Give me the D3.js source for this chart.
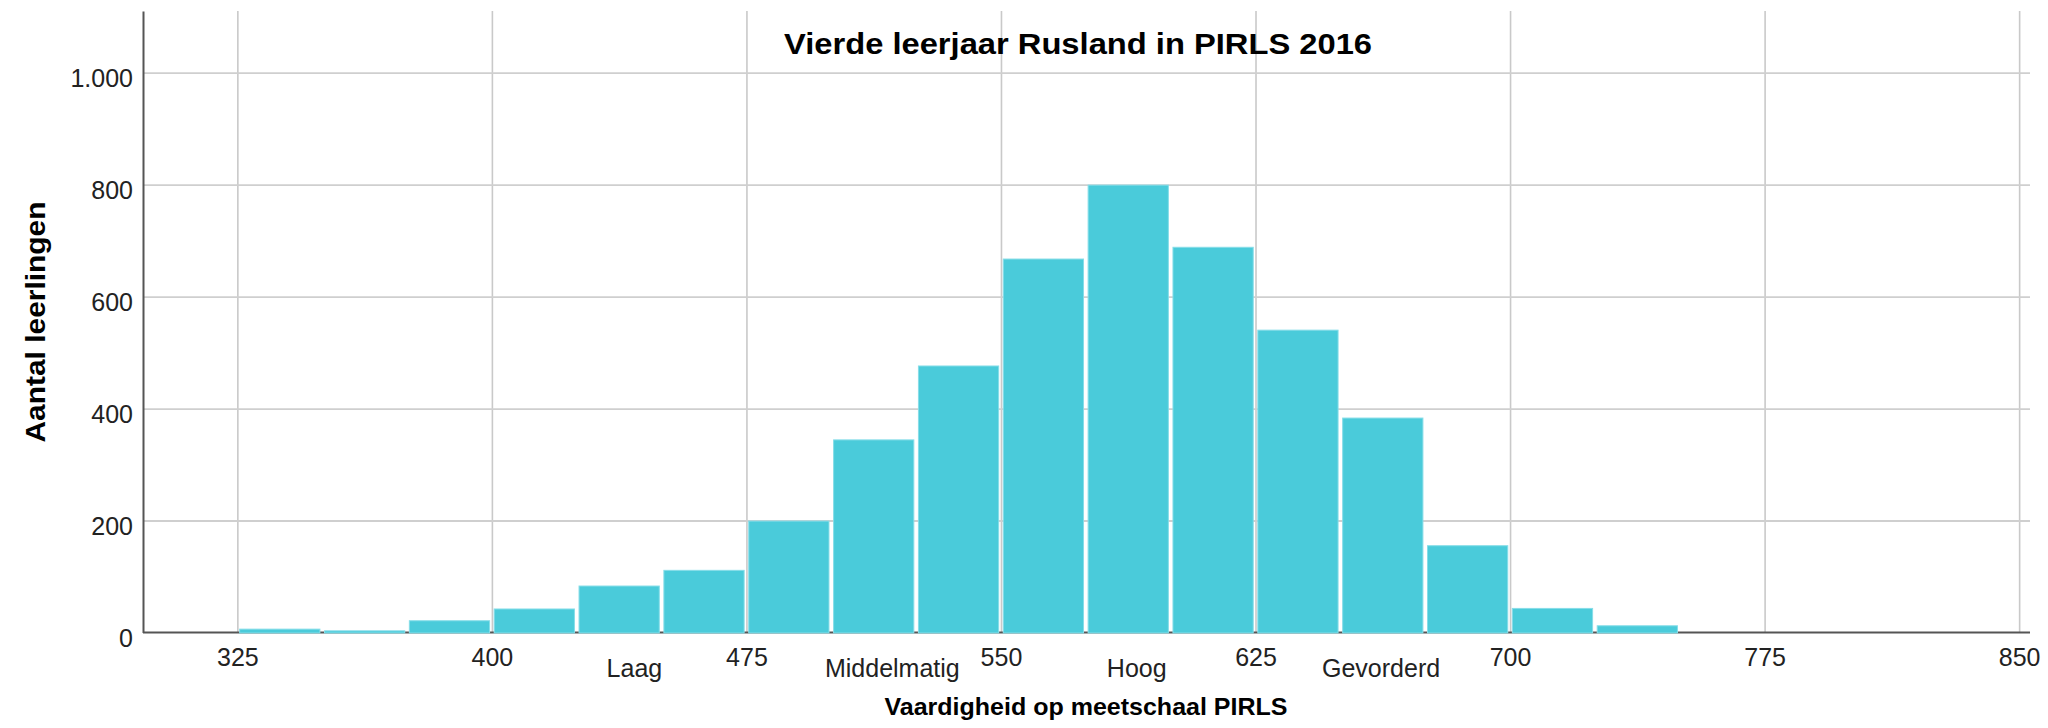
<!DOCTYPE html>
<html>
<head>
<meta charset="utf-8">
<script src="https://cdn.jsdelivr.net/npm/d3@7"></script>
<style>
  body { margin: 0; background: #fff; }
  svg { display: block; font-family: "Liberation Sans", Arial, sans-serif; }
</style>
</head>
<body>
<div id="chart"></div>
<script>
// histogram data: bin start (score) and number of pupils
var binStarts = [325, 350, 375, 400, 425, 450, 475, 500, 525, 550, 575, 600, 625, 650, 675, 700, 725];
var counts = [6, 3, 21, 42, 83, 111, 199, 344, 476, 667, 799, 688, 540, 383, 155, 43, 12];
var binWidth = 25;

// tick values
var xTicks = [325, 400, 475, 550, 625, 700, 775, 850];
var yTicks = [0, 200, 400, 600, 800, 1000];

// benchmark labels under the axis
var levelNames = ["Laag", "Middelmatig", "Hoog", "Gevorderd"];
var levelPos = [442, 518, 590, 662];

var width = 2048;
var height = 728;

var svg = d3.select("#chart")
  .append("svg")
  .attr("width", width)
  .attr("height", height);

var x = d3.scaleLinear().domain([297.2, 853.2]).range([143, 2030]);
var y = d3.scaleLinear().domain([0, 1110]).range([632.5, 11]);

// dutch number format: 1.000
var nl = d3.formatLocale({decimal: ",", thousands: ".", grouping: [3], currency: ["€", ""]});
var fmt = nl.format(",");

// grid lines
svg.append("g")
  .attr("transform", "translate(0,0)")
  .call(d3.axisBottom(x).tickValues(xTicks).tickSize(y.range()[0] - y.range()[1]).tickFormat(""))
  .attr("transform", "translate(0," + y.range()[1] + ")")
  .call(function(g) {
    g.select(".domain").remove();
    g.selectAll("line").attr("stroke", "#c9c9c9").attr("stroke-width", 1.6);
  });

svg.append("g")
  .attr("transform", "translate(" + x.range()[0] + ",0)")
  .call(d3.axisRight(y).tickValues(yTicks.filter(function(d) { return d > 0; }))
    .tickSize(x.range()[1] - x.range()[0]).tickFormat(""))
  .call(function(g) {
    g.select(".domain").remove();
    g.selectAll("line").attr("stroke", "#cfcfcf").attr("stroke-width", 1.8);
  });

// x axis line (under the bars)
svg.append("line")
  .attr("x1", x.range()[0]).attr("x2", x.range()[1])
  .attr("y1", y(0)).attr("y2", y(0))
  .attr("stroke", "#555").attr("stroke-width", 2);

// bars
var bins = binStarts.map(function(s, i) { return {start: s, end: s + binWidth, n: counts[i]}; });

svg.append("g")
  .selectAll("rect")
  .data(bins)
  .enter()
  .append("rect")
  .attr("x", function(d) { return x(d.start) + 2.3; })
  .attr("width", function(d) { return x(d.end) - x(d.start) - 4.6; })
  .attr("y", function(d) { return y(d.n); })
  .attr("height", function(d) { return y(0) - y(d.n) + 0.5; })
  .attr("fill", "#4acbda")
  .attr("stroke", "#86dde8")
  .attr("stroke-width", 1);

// y axis
svg.append("g")
  .attr("transform", "translate(" + x.range()[0] + ",0)")
  .call(d3.axisLeft(y).tickValues(yTicks).tickSize(0).tickPadding(10).tickFormat(fmt).tickSizeOuter(0))
  .call(function(g) {
    g.select(".domain").attr("stroke", "#555").attr("stroke-width", 2);
    g.selectAll("text")
      .attr("dy", "0.56em")
      .attr("fill", "#222")
      .style("font-size", "25px")
      .style("font-family", "'Liberation Sans', Arial, sans-serif");
  });

// x axis labels
svg.append("g")
  .attr("transform", "translate(0," + y(0) + ")")
  .call(d3.axisBottom(x).tickValues(xTicks).tickSize(0).tickPadding(16))
  .call(function(g) {
    g.select(".domain").remove();
    g.selectAll("text")
      .attr("fill", "#222")
      .style("font-size", "25px")
      .style("font-family", "'Liberation Sans', Arial, sans-serif");
  });

// benchmark names
svg.append("g")
  .selectAll("text")
  .data(levelNames)
  .enter()
  .append("text")
  .attr("x", function(d, i) { return x(levelPos[i]); })
  .attr("y", 677)
  .attr("text-anchor", "middle")
  .attr("fill", "#222")
  .style("font-size", "25px")
  .text(function(d) { return d; });

// titles
svg.append("text")
  .attr("x", 1078)
  .attr("y", 54)
  .attr("text-anchor", "middle")
  .attr("textLength", 588)
  .attr("lengthAdjust", "spacingAndGlyphs")
  .style("font-size", "30px")
  .style("font-weight", "bold")
  .text("Vierde leerjaar Rusland in PIRLS 2016");

svg.append("text")
  .attr("x", 1086)
  .attr("y", 715)
  .attr("text-anchor", "middle")
  .attr("textLength", 403)
  .attr("lengthAdjust", "spacingAndGlyphs")
  .style("font-size", "24px")
  .style("font-weight", "bold")
  .text("Vaardigheid op meetschaal PIRLS");

svg.append("text")
  .attr("transform", "translate(45,322) rotate(-90)")
  .attr("text-anchor", "middle")
  .attr("textLength", 241)
  .attr("lengthAdjust", "spacingAndGlyphs")
  .style("font-size", "28px")
  .style("font-weight", "bold")
  .text("Aantal leerlingen");
</script>
</body>
</html>
